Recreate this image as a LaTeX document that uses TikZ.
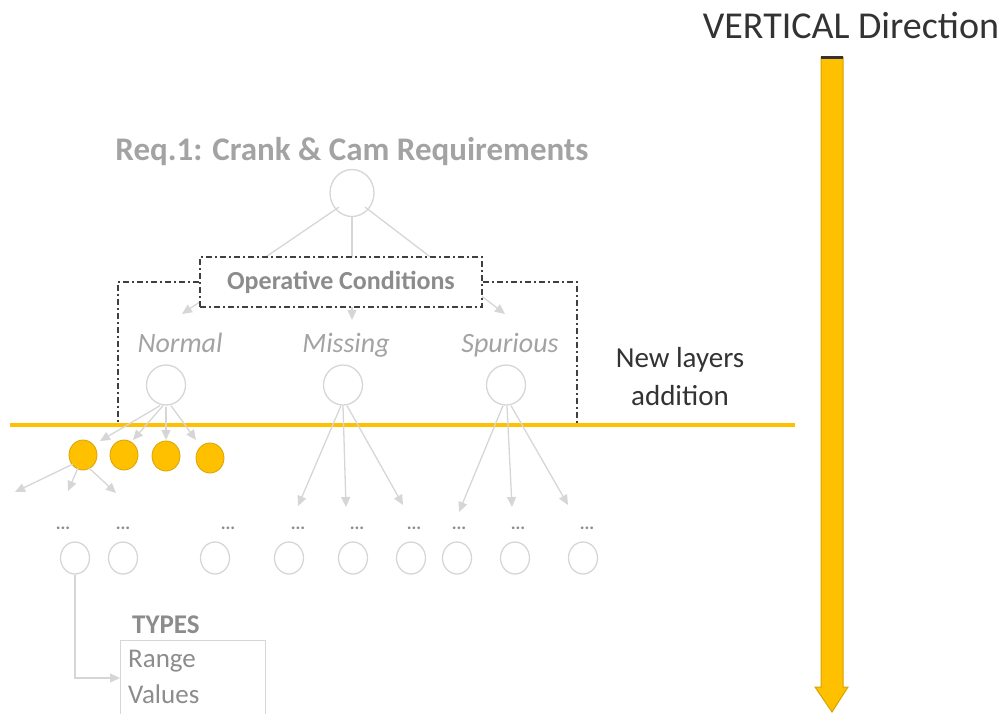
\documentclass[tikz,border=0pt]{standalone}
\usepackage{fontspec}
\setmainfont{Carlito}
\usetikzlibrary{arrows.meta,shapes.geometric,calc}
\definecolor{gold}{HTML}{FFC000}
\definecolor{goldedge}{HTML}{D9A300}
\definecolor{lite}{HTML}{D6D6D6}
\definecolor{txtgray}{HTML}{A3A3A3}
\definecolor{midgray}{HTML}{8C8C8C}
\definecolor{dark}{HTML}{333333}
\definecolor{dashc}{HTML}{404040}
\begin{document}
\begin{tikzpicture}[x=1pt,y=-1pt,
  bubble/.style={ellipse, draw=lite, line width=1.3pt, inner sep=0pt},
  bigbub/.style={bubble, minimum width=44pt, minimum height=47pt},
  midbub/.style={bubble, minimum width=39pt, minimum height=40pt},
  smallbub/.style={bubble, minimum width=29pt, minimum height=32pt},
  leaf/.style={ellipse, fill=gold, draw=goldedge, line width=0.8pt,
               minimum width=28pt, minimum height=30pt, inner sep=0pt},
  link/.style={draw=lite, line width=1.3pt, -{Triangle[width=9pt,length=10pt]}},
  dots/.style={font=\fontsize{18}{18}\selectfont\bfseries, text=midgray, anchor=base, inner sep=0pt},
  dashdot/.style={draw=dashc, line width=1.8pt, dash pattern=on 6pt off 3pt on 2pt off 3pt},
  cat/.style={font=\fontsize{28}{28}\selectfont\itshape, text=txtgray},
  dir/.style={text=dark, inner sep=0pt},
  boxtext/.style={font=\fontsize{27}{27}\selectfont, text=midgray, anchor=base west, inner sep=0pt},
]
\useasboundingbox (0,0) rectangle (1003,713);

% ---- title and root ----
\node[font=\fontsize{33}{33}\selectfont\bfseries, text=txtgray, anchor=base, inner sep=0pt] (title) at (352,160) {Req.1: Crank \& Cam Requirements};
\node[bigbub] (root) at (352,193) {};

% ---- operative conditions level ----
\node[cat] (normal) at (180,343) {Normal};
\node[cat] (missing) at (346,345) {Missing};
\node[cat] (spurious) at (510,345) {Spurious};
\coordinate (tN) at (182,314);
\coordinate (tM) at (352,320);
\coordinate (tS) at (505,314);
\draw[link] (root.south west) ++(3,-3) coordinate (r1) -- (tN);
\draw[link] (root.south) -- (tM);
\draw[link] (root.south east) ++(-3,-3) coordinate (r3) -- (tS);

\node[draw=dashc, line width=1.8pt, dash pattern=on 6pt off 3pt on 2pt off 3pt, fill=white,
      minimum width=282pt, minimum height=50pt, inner sep=0pt,
      font=\fontsize{26}{26}\selectfont\bfseries, text=midgray] (oc) at (341,282) {Operative Conditions};
\coordinate (bl) at (118,425);
\coordinate (br) at (577,425);
\draw[dashdot] (oc.west) -| (bl);
\draw[dashdot] (oc.east) -| (br);

\node[midbub] (cN) at (166,385) {};
\node[midbub] (cM) at (343,385) {};
\node[midbub] (cS) at (506,385) {};

% ---- horizontal layer boundary ----
\coordinate (hl) at (10,425);
\coordinate (hr) at (795,425);
\draw[gold, line width=4pt] (hl) -- (hr);

\node[dir, font=\fontsize{29}{29}\selectfont, anchor=base] (layers1) at (680,367) {New layers};
\node[dir, font=\fontsize{29}{29}\selectfont, anchor=base] (layers2) at (680,405) {addition};

% ---- new layer ----
\node[leaf] (y1) at (83,455) {};
\node[leaf] (y2) at (124,455) {};
\node[leaf] (y3) at (166,456) {};
\node[leaf] (y4) at (210,458) {};
\draw[link] ($(cN.south)+(-6,0)$) -- ($(y1)+(17,-14)$);
\draw[link] ($(cN.south)+(-3,0)$) -- ($(y2)+(9,-15)$);
\draw[link] ($(cN.south)+(0,1)$) -- ($(y3)+(0,-16)$);
\draw[link] ($(cN.south)+(5,0)$) -- ($(y4)+(-14,-18)$);

\draw[link] ($(y1)+(-10,9)$) -- (15,492);
\draw[link] ($(y1)+(-5,13)$) -- (68,491);
\draw[link] ($(y1)+(6,13)$) -- (116,493);

% ---- lower row ----
\draw[link] (cM.south) ++(-2,0) -- (298,506);
\draw[link] (cM.south) -- (346,507);
\draw[link] (cM.south) ++(4,0) -- (403,505);
\draw[link] (cS.south) ++(-3,0) -- (459,512);
\draw[link] (cS.south) ++(1,0) -- (512,507);
\draw[link] (cS.south) ++(5,0) -- (568,505);

\foreach \n/\cx/\dx in {1/75/63, 2/123/123, 3/215/228, 4/289/298, 5/353/357, 6/411/414, 7/457/459, 8/515/518, 9/583/587} {
  \node[smallbub] (b\n) at (\cx,558) {};
  \node[dots] (d\n) at (\dx,529) {...};
}

% ---- types box ----
\node[font=\fontsize{27}{27}\selectfont\bfseries, text=midgray, anchor=base west, inner sep=0pt] (types) at (132,633) {TYPES};
\node[draw=lite, line width=1.2pt, anchor=north west, minimum width=145pt, minimum height=80pt] (tbox) at (120,640) {};
\node[boxtext] (range) at (128,667) {Range};
\node[boxtext] (values) at (128,703) {Values};
\coordinate (bend) at (75,678);
\draw[link] (b1.south) -- (bend) -- (tbox.west |- bend);

% ---- vertical direction arrow ----
\node[dir, font=\fontsize{38}{38}\selectfont, anchor=base] (vd) at (851,38) {VERTICAL Direction};
\coordinate (at1) at (821,57);
\coordinate (at2) at (843,57);
\coordinate (tip) at (832,712);
\draw[fill=gold, draw=goldedge, line width=1pt]
  (at1) -- (at2) -- (843,687) -- (848,687) -- (tip) -- (815,687) -- (821,687) -- cycle;
\draw[dark, line width=3pt] (at1) -- (at2);
\end{tikzpicture}
\end{document}
